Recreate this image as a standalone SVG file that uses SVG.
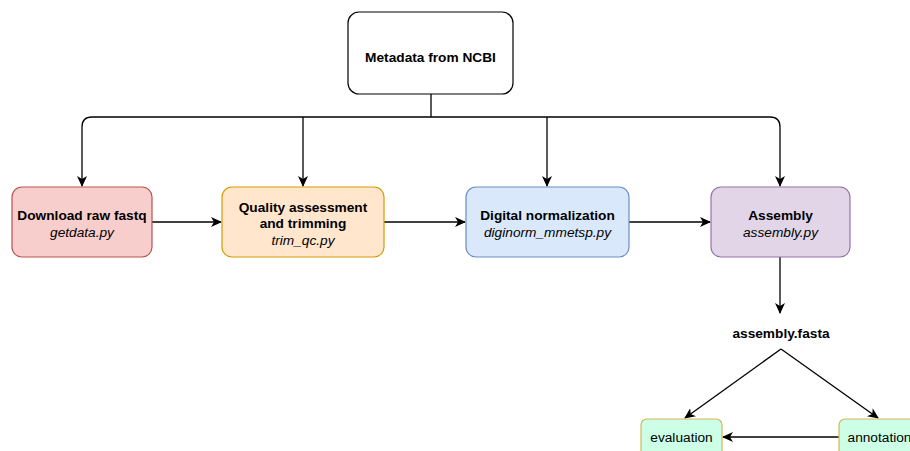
<svg xmlns="http://www.w3.org/2000/svg" width="910" height="451" viewBox="0 0 910 451">
<defs>
<marker id="arr" markerWidth="12" markerHeight="10" refX="10" refY="5" orient="auto" markerUnits="userSpaceOnUse">
<path d="M0,0 L11,5 L0,10 L3,5 Z" fill="#000"/>
</marker>
<style>
.b{stroke-width:1.2}
.t{font-family:"Liberation Sans",Arial,sans-serif;font-size:13.7px;fill:#000;text-anchor:middle}
.bold{font-weight:bold}
.it{font-style:italic}
.c{fill:none;stroke:#000;stroke-width:1.3}
</style>
</defs>
<rect width="910" height="451" fill="#fff"/>
<g id="connectors">
<path class="c" d="M431,94 V117"/>
<path class="c" d="M431,117 H92 Q82,117 82,127 V186" marker-end="url(#arr)"/>
<path class="c" d="M431,117 H770 Q780,117 780,127 V186" marker-end="url(#arr)"/>
<path class="c" d="M303,117 V186" marker-end="url(#arr)"/>
<path class="c" d="M547,117 V186" marker-end="url(#arr)"/>
<path class="c" d="M152,222 H221" marker-end="url(#arr)"/>
<path class="c" d="M384,222 H465" marker-end="url(#arr)"/>
<path class="c" d="M629,222 H710" marker-end="url(#arr)"/>
<path class="c" d="M780,257 V313" marker-end="url(#arr)"/>
<path class="c" d="M781,349 L685,418" marker-end="url(#arr)"/>
<path class="c" d="M781,349 L878,418" marker-end="url(#arr)"/>
<path class="c" d="M839,437 H723" marker-end="url(#arr)"/>
</g>
<g id="metadata">
<rect x="348" y="12" width="165" height="82" rx="11" fill="#fff" stroke="#000" class="b"/>
<text class="t bold" x="430.5" y="62">Metadata from NCBI</text>
</g>
<g id="download">
<rect x="12" y="187" width="140" height="70" rx="10" fill="#f8cecc" stroke="#b85450" class="b"/>
<text class="t bold" x="82" y="220">Download raw fastq</text>
<text class="t it" x="82" y="237">getdata.py</text>
</g>
<g id="quality">
<rect x="222" y="187" width="162" height="70" rx="10" fill="#ffe6cc" stroke="#d79b00" class="b"/>
<text class="t bold" x="303" y="212">Quality assessment</text>
<text class="t bold" x="303" y="228">and trimming</text>
<text class="t it" x="303" y="245">trim_qc.py</text>
</g>
<g id="diginorm">
<rect x="466" y="187" width="163" height="70" rx="10" fill="#dae8fc" stroke="#6c8ebf" class="b"/>
<text class="t bold" x="547.5" y="220">Digital normalization</text>
<text class="t it" x="547.5" y="237">diginorm_mmetsp.py</text>
</g>
<g id="assembly">
<rect x="711" y="187" width="139" height="70" rx="10" fill="#e1d5e7" stroke="#9673a6" class="b"/>
<text class="t bold" x="780.5" y="220">Assembly</text>
<text class="t it" x="780.5" y="237">assembly.py</text>
</g>
<g id="fasta">
<text class="t bold" x="781" y="338">assembly.fasta</text>
</g>
<g id="evaluation">
<rect x="641" y="419" width="81" height="45" rx="6" fill="#ccffe6" stroke="#d6b656" class="b"/>
<text class="t" x="681.5" y="442">evaluation</text>
</g>
<g id="annotation">
<rect x="839" y="419" width="81" height="45" rx="6" fill="#ccffe6" stroke="#d6b656" class="b"/>
<text class="t" x="879.5" y="442">annotation</text>
</g>
</svg>
